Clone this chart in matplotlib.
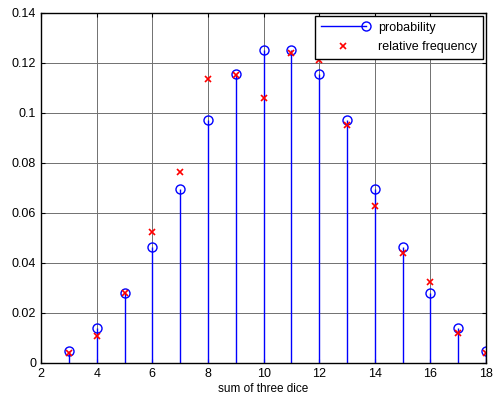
import matplotlib
matplotlib.use("Agg")
import matplotlib.pyplot as plt
from matplotlib.legend_handler import HandlerBase
from matplotlib.lines import Line2D

sums = [3, 4, 5, 6, 7, 8, 9, 10, 11, 12, 13, 14, 15, 16, 17, 18]
probability = [0.00463, 0.01389, 0.02778, 0.04630, 0.06944, 0.09722, 0.11574, 0.125,
               0.125, 0.11574, 0.09722, 0.06944, 0.04630, 0.02778, 0.01389, 0.00463]
rel_freq = [0.0039, 0.0108, 0.0279, 0.0524, 0.0762, 0.1134, 0.1152, 0.1058,
            0.1240, 0.1212, 0.0952, 0.0628, 0.0440, 0.0322, 0.0121, 0.0041]
xticks = [2, 4, 6, 8, 10, 12, 14, 16, 18]
yticks = [0, 0.02, 0.04, 0.06, 0.08, 0.1, 0.12, 0.14]
ytick_labels = ["0", "0.02", "0.04", "0.06", "0.08", "0.1", "0.12", "0.14"]

plt.rcParams['font.family'] = ['Liberation Sans', 'DejaVu Sans']

fig = plt.figure(figsize=(4.95, 4.05), dpi=100)
ax = fig.add_axes([0.083, 0.104, 0.899, 0.864])

ml, sl, bl = ax.stem(sums, probability, linefmt='b-', markerfmt='o', basefmt=' ')
plt.setp(sl, linewidth=1.0, color='#0000ff')
plt.setp(ml, markerfacecolor='none', markeredgecolor='#0000ff', markersize=6.5, markeredgewidth=1.0)
ax.plot(sums, rel_freq, 'x', color='#ff0000', markersize=3.8, markeredgewidth=1.2, linestyle='none')

ax.set_xlim(2, 18)
ax.set_ylim(0, 0.14)
ax.set_xticks(xticks)
ax.set_yticks(yticks)
ax.set_yticklabels(ytick_labels)
ax.tick_params(direction='in', top=True, right=True, labelsize=9, length=3, width=0.8)
ax.grid(True, color='#707070', linewidth=0.7, linestyle='-')
ax.set_axisbelow(True)
for s in ax.spines.values():
    s.set_linewidth(1.0)
ax.set_xlabel("sum of three dice", fontsize=8.5, labelpad=2)


class EndMarkerHandler(HandlerBase):
    def create_artists(self, legend, orig_handle, xdescent, ydescent, width, height, fontsize, trans):
        y = height / 2 - ydescent
        x0 = -xdescent
        x1 = -xdescent + width
        line = Line2D([x0, x1], [y, y], color='#0000ff', linewidth=1.0, transform=trans)
        mk = Line2D([x1], [y], color='#0000ff', marker='o', markerfacecolor='none',
                    markersize=6.5, markeredgewidth=1.0, linestyle='none', transform=trans)
        return [line, mk]


h1 = Line2D([], [], color='#0000ff', marker='o', markerfacecolor='none', markersize=6.5,
            markeredgecolor='#0000ff', linewidth=1.0)
h2 = Line2D([], [], color='#ff0000', marker='x', linestyle='none', markersize=3.8, markeredgewidth=1.2)
leg = ax.legend([h1, h2], ["probability", "relative frequency"], loc='upper right',
                fontsize=9, fancybox=False, edgecolor='black', framealpha=1,
                borderaxespad=0.25, handlelength=3.6, handletextpad=1.0, labelspacing=0.6,
                borderpad=0.45, numpoints=1,
                handler_map={h1: EndMarkerHandler()})
leg.get_frame().set_linewidth(1.0)
leg.set_zorder(10)

fig.savefig("out.png", dpi=100)
